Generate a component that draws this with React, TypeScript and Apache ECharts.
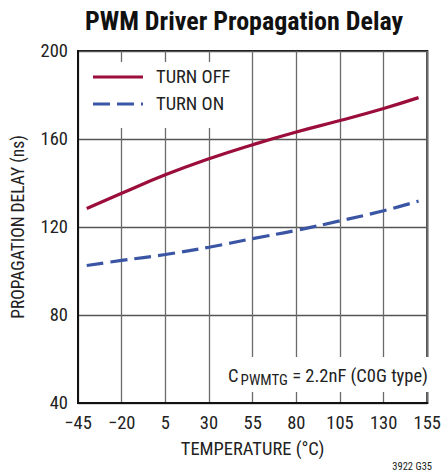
import React, { useEffect, useRef } from "react";
import * as echarts from "echarts";

const temperatures = [-40, -20, 5, 30, 55, 80, 105, 130, 150];
const turnOff = [128.4, 135.3, 143.7, 151, 157.4, 163.2, 168.4, 173.9, 178.8];
const turnOn = [102.5, 104.8, 107.5, 110.8, 114.7, 118.5, 122.8, 127.4, 131.8];
const xMin = -45;
const xMax = 155;
const xStep = 25;
const yMin = 40;
const yMax = 200;
const yStep = 40;

const FONT = "'Liberation Sans Narrow', 'Roboto Condensed', 'DejaVu Sans Condensed', sans-serif";

export default function App() {
  const ref = useRef<HTMLDivElement>(null);
  useEffect(() => {
    if (!ref.current) return;
    const chart = echarts.init(ref.current, null, { renderer: "svg" });
    const shift = (t: number) => t - xMin;
    const fmtT = (v: number) => {
      const t = v + xMin;
      return t < 0 ? "\u2212" + Math.abs(t) : String(t);
    };
    chart.setOption({
      animation: false,
      backgroundColor: "#fff",
      textStyle: { fontFamily: FONT },
      title: {
        text: "PWM Driver Propagation Delay",
        left: 239,
        top: 3,
        textAlign: "center",
        textStyle: { fontFamily: FONT, fontWeight: "bold", fontSize: 26, color: "#111" },
      },
      grid: {
        left: 78,
        right: 13,
        top: 51,
        bottom: 68,
        show: true,
        borderColor: "#111",
        borderWidth: 2,
        backgroundColor: "transparent",
      },
      xAxis: {
        type: "value",
        min: 0,
        max: xMax - xMin,
        interval: xStep,
        name: "TEMPERATURE (\u00B0C)",
        nameLocation: "middle",
        nameGap: 36,
        nameTextStyle: { fontFamily: FONT, fontSize: 18.5, color: "#222" },
        axisLine: { show: true, lineStyle: { color: "#111", width: 2 } },
        axisTick: { show: false },
        axisLabel: { formatter: fmtT, fontFamily: FONT, fontSize: 18.5, color: "#222", margin: 10 },
        splitLine: { show: true, lineStyle: { color: "#6a6a6a", width: 1.3 } },
      },
      yAxis: {
        type: "value",
        min: yMin,
        max: yMax,
        interval: yStep,
        name: "PROPAGATION DELAY (ns)",
        nameLocation: "middle",
        nameGap: 51,
        nameRotate: 90,
        nameTextStyle: { fontFamily: FONT, fontSize: 17.5, color: "#222" },
        axisLine: { show: true, lineStyle: { color: "#111", width: 2 } },
        axisTick: { show: false },
        axisLabel: { fontFamily: FONT, fontSize: 18.5, color: "#222", margin: 10 },
        splitLine: { show: true, lineStyle: { color: "#555", width: 1.3 } },
      },
      series: [
        {
          name: "TURN OFF",
          type: "line",
          smooth: true,
          symbol: "none",
          data: temperatures.map((t, i) => [shift(t), turnOff[i]]),
          lineStyle: { color: "#9b0d3b", width: 3.2 },
          z: 3,
        },
        {
          name: "TURN ON",
          type: "line",
          smooth: true,
          symbol: "none",
          data: temperatures.map((t, i) => [shift(t), turnOn[i]]),
          lineStyle: { color: "#3b55a5", width: 3.2, type: [17, 7] },
          z: 3,
        },
      ],
      graphic: [
        { type: "rect", shape: { x: 80, y: 62, width: 158, height: 66 }, style: { fill: "#fff" }, z: 10 },
        { type: "line", shape: { x1: 93, y1: 77, x2: 143, y2: 77 }, style: { stroke: "#9b0d3b", lineWidth: 3.2 }, z: 11 },
        { type: "line", shape: { x1: 93, y1: 104, x2: 143, y2: 104 }, style: { stroke: "#3b55a5", lineWidth: 3.2, lineDash: [17, 7] }, z: 11 },
        { type: "text", x: 156, y: 77, style: { text: "TURN OFF", fontFamily: FONT, fontSize: 18.5, fill: "#222", textVerticalAlign: "middle" }, z: 11 },
        { type: "text", x: 156, y: 104, style: { text: "TURN ON", fontFamily: FONT, fontSize: 18.5, fill: "#222", textVerticalAlign: "middle" }, z: 11 },
        { type: "rect", shape: { x: 215, y: 357, width: 215, height: 35 }, style: { fill: "#fff" }, z: 10 },
        {
          type: "text",
          x: 428,
          y: 376,
          style: {
            text: "{a|C}{s|PWMTG}{a| = 2.2nF (C0G type)}",
            align: "right",
            verticalAlign: "middle",
            rich: {
              a: { fontFamily: FONT, fontSize: 18.5, fill: "#222", color: "#222" },
              s: { fontFamily: FONT, fontSize: 15, fill: "#222", color: "#222", padding: [8, 0, 0, 2] },
            },
          },
          z: 11,
        },
        { type: "text", x: 432, y: 466, style: { text: "3922 G35", fontFamily: FONT, fontSize: 10.5, fill: "#222", align: "right", verticalAlign: "middle" } },
      ],
    });
    return () => chart.dispose();
  }, []);
  return <div ref={ref} style={{ width: 444, height: 471, position: "absolute", left: 0, top: 0 }} />;
}
